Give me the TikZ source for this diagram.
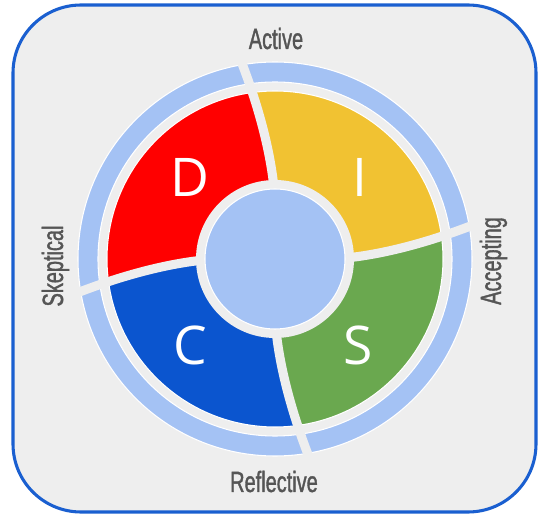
\documentclass[tikz,border=0pt]{standalone}
\usepackage{fontspec}
\setmainfont{Liberation Sans}
\newfontfamily\narrowfont[FakeStretch=0.68,FakeBold=1.2]{Liberation Sans}
\newfontfamily\letterfont{Open Sans}
\definecolor{bggray}{HTML}{EEEEEE}
\definecolor{borderblue}{HTML}{1A5FD0}
\definecolor{ringblue}{HTML}{A4C2F4}
\definecolor{discred}{HTML}{FF0000}
\definecolor{discyellow}{HTML}{F1C232}
\definecolor{discgreen}{HTML}{6AA84F}
\definecolor{discblue}{HTML}{0B55CF}
\definecolor{labelgray}{HTML}{555555}
\tikzset{
  sidelabel/.style={font=\narrowfont\fontsize{22pt}{22pt}\selectfont, text=labelgray, inner sep=0pt, anchor=base},
  letterlabel/.style={font=\letterfont\fontsize{40pt}{40pt}\selectfont, text=white, inner sep=0pt},
  divider/.style={bggray, line width=6.8pt},
  edge/.style={draw=white, line width=0.8pt}
}
\begin{document}
\begin{tikzpicture}[x=0.75pt,y=0.75pt]
\useasboundingbox (0,0) rectangle (551,522);
\draw[line width=2.3pt, draw=borderblue, fill=bggray, rounded corners=51pt] (13,10) rectangle (536,517);
% quadrants and ring segments
\foreach \a/\c in {0/discyellow, 90/discred, 180/discblue, 270/discgreen}{
  \begin{scope}[shift={(275,263)}, rotate=\a]
    \clip (0,0) -- (70,0) .. controls (115,4.5) and (165,20) .. (212,40) -- (400,400) -- (-40,212) .. controls (-20,165) and (-4.5,115) .. (0,70) -- cycle;
    \fill[\c, edge] (0,0) circle (168);
    \fill[ringblue, edge, even odd rule] (0,0) circle (197) (0,0) circle (177);
  \end{scope}
}
% curved dividers
\foreach \a in {0,90,180,270}{
  \draw[divider, shift={(275,263)}, rotate=\a] (60,0) .. controls (110,3.5) and (165,20) .. (214,40.4);
}
% centre
\fill[bggray] (275,263) circle (79);
\fill[ringblue, edge] (275,263) circle (70);
% letters
\node[letterlabel] (D) at (190,345) {D};
\node[letterlabel] (I) at (360,345) {I};
\node[letterlabel] (C) at (190,177) {C};
\node[letterlabel] (S) at (358,177) {S};
% side labels
\node[sidelabel] (active) at (276,473) {Active};
\node[sidelabel] (reflective) at (274,30) {Reflective};
\node[sidelabel, rotate=90] (accepting) at (501,261) {Accepting};
\node[sidelabel, rotate=90] (skeptical) at (63,256) {Skeptical};
\end{tikzpicture}
\end{document}
